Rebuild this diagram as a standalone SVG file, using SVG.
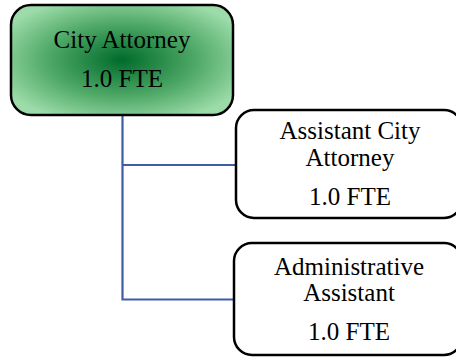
<svg xmlns="http://www.w3.org/2000/svg" width="456" height="358" viewBox="0 0 456 358">
<defs>
<radialGradient id="g" cx="50%" cy="50%" r="60%">
<stop offset="0" stop-color="#006b2c"/>
<stop offset="0.55" stop-color="#4ea866"/>
<stop offset="1" stop-color="#9ddcaa"/>
</radialGradient>
<style>
.box{stroke:#000;stroke-width:2.5}
.t{font-size:25px;fill:#000;text-anchor:middle}
.c{fill:none;stroke:#3d5ea6;stroke-width:2.2}
</style>
</defs>
<g id="connectors">
<path class="c" d="M122.5 116V299.5H234"/>
<path class="c" d="M122.5 165H236"/>
</g>
<g font-family="'Liberation Serif', 'Times New Roman', Times, 'DejaVu Serif', serif">
<g id="city-attorney">
<rect class="box" x="11" y="5" width="222" height="110" rx="20" fill="url(#g)"/>
<text class="t" x="122" y="48">City Attorney</text>
<text class="t" x="122" y="87">1.0 FTE</text>
</g>
<g id="assistant-city-attorney">
<rect class="box" x="236" y="110" width="226" height="108" rx="18" fill="#fff"/>
<text class="t" x="350" y="139">Assistant City</text>
<text class="t" x="350" y="166">Attorney</text>
<text class="t" x="350" y="205">1.0 FTE</text>
</g>
<g id="administrative-assistant">
<rect class="box" x="234" y="243" width="228" height="112" rx="18" fill="#fff"/>
<text class="t" x="349" y="275">Administrative</text>
<text class="t" x="349" y="301">Assistant</text>
<text class="t" x="349" y="340">1.0 FTE</text>
</g>
</g>
</svg>
